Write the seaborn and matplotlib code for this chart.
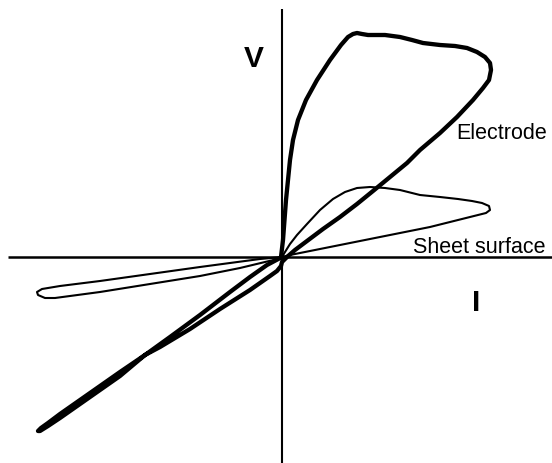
import matplotlib
matplotlib.use("Agg")
import matplotlib.pyplot as plt
import seaborn as sns
import pandas as pd

# I-V traces (arbitrary units, origin at zero current / zero voltage)
electrode_I = [-1, 1, 2.5, 4, 6, 8, 11, 16, 24, 35, 48, 59, 66, 71, 75, 80, 86,
               103, 118, 130, 141, 158, 173, 185, 195, 203, 208, 209, 207, 201,
               191, 175, 158, 138, 125, 108, 91, 75, 58, 41, 25, 13, 5, 0, -1,
               -5, -12, -32, -62, -92, -122, -137,
               -162, -182, -202, -222, -234, -241, -244, -242, -234, -222,
               -202, -182, -162, -137,
               -112, -82, -52, -32, -15, 0]
electrode_V = [0, 17, 37, 57, 77, 97, 117, 137, 157, 177, 197, 212, 220, 223,
               224, 223, 222, 222, 220, 217, 214, 212, 211, 209, 205, 200, 194,
               187, 177, 169, 157, 140, 124, 107, 94, 80, 66, 53, 40, 28, 16, 7,
               0, -5, -9,
               -14, -19, -33, -52, -72, -90, -98,
               -115, -129, -143, -157, -166, -171, -174, -174, -169, -161,
               -147, -133, -119, -98,
               -80, -58, -35, -20, -8, 0]

sheet_I = [0, 3, 8, 15, 25, 38, 51, 63, 75, 88, 103, 118, 138, 158, 176, 190,
           200, 207, 208, 204, 188, 168, 148, 118, 88, 58, 28, 8, 0,
           -22, -52, -82, -132, -182, -222, -240, -245, -244, -237, -227,
           -182, -132, -82, -42, -17, 0]
sheet_V = [0, 5, 13, 22, 33, 47, 58, 65, 69, 70, 69, 67, 62, 60, 58, 56,
           54, 51, 47, 44, 40, 35, 30, 24, 18, 12, 6, 2, 0,
           -2, -6, -10, -17, -24, -29, -32, -35, -38, -41, -41,
           -35, -27, -19, -11, -5, -1]

labels = {"V": "V", "I": "I", "electrode": "Electrode", "sheet": "Sheet surface"}

sns.set_theme(style="white")
plt.rcParams["font.family"] = ["Liberation Sans", "DejaVu Sans"]

fig = plt.figure(figsize=(5.52, 4.63), dpi=100)
ax = fig.add_axes([0, 0, 1, 1])

# coordinate axes
ax.plot([-274, 270], [0, 0], color="black", lw=1.8, solid_capstyle="butt")
ax.plot([0, 0], [-206, 248], color="black", lw=1.5, solid_capstyle="butt")

df_e = pd.DataFrame({"I": electrode_I, "V": electrode_V})
df_s = pd.DataFrame({"I": sheet_I, "V": sheet_V})

sns.lineplot(data=df_s, x="I", y="V", sort=False, estimator=None, color="black",
             linewidth=1.5, ax=ax, solid_joinstyle="round", solid_capstyle="round")
sns.lineplot(data=df_e, x="I", y="V", sort=False, estimator=None, color="black",
             linewidth=3.1, ax=ax, solid_joinstyle="round", solid_capstyle="round")

ax.set_xlim(-282, 270)
ax.set_ylim(-206, 257)
ax.axis("off")

ax.text(-28, 190, labels["V"], ha="center", va="baseline", fontsize=21.5,
        fontweight="bold", color="black")
ax.text(194.5, -54, labels["I"], ha="center", va="baseline", fontsize=21.5,
        fontweight="bold", color="black")
ax.text(174, 118, labels["electrode"], ha="left", va="baseline", fontsize=15.5,
        color="black")
ax.text(131, 4, labels["sheet"], ha="left", va="baseline", fontsize=15.5,
        color="black")

fig.savefig("out.png", dpi=100, facecolor="white")
